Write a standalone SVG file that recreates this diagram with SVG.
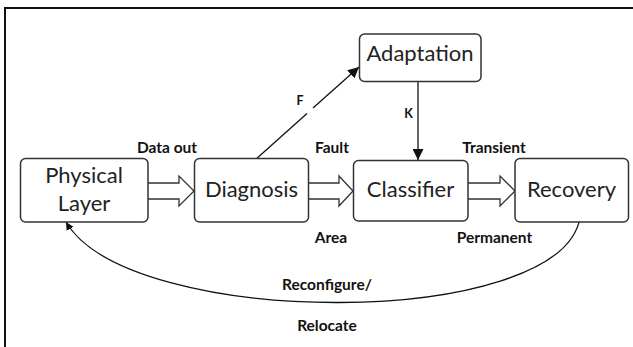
<svg xmlns="http://www.w3.org/2000/svg" width="633" height="347" viewBox="0 0 633 347">
<defs>
<style>
.box{fill:#fff;stroke:#333;stroke-width:1.5}
.nt{font-family:Lato,"Open Sans",sans-serif;font-size:22px;fill:#222;text-anchor:middle}
.lb{font-family:Lato,"Open Sans",sans-serif;font-size:15.5px;font-weight:bold;fill:#111;text-anchor:middle}
.sm{font-family:Lato,"Open Sans",sans-serif;font-size:12.5px;font-weight:bold;fill:#111;text-anchor:middle}
.ln{fill:none;stroke:#111;stroke-width:1.3}
.hol{fill:#fff;stroke:#333;stroke-width:1.3;stroke-linejoin:miter}
</style>
<marker id="ah" viewBox="0 0 10 10" refX="10" refY="5" markerWidth="8" markerHeight="8" markerUnits="userSpaceOnUse" orient="auto">
<path d="M0,0 L10,5 L0,10 z" fill="#111"/>
</marker>
<marker id="ahb" viewBox="0 0 10 10" refX="10" refY="5" markerWidth="11" markerHeight="11" markerUnits="userSpaceOnUse" orient="auto">
<path d="M0,0 L10,5 L0,10 z" fill="#111"/>
</marker>
</defs>
<rect width="633" height="347" fill="#fff"/>
<path d="M5,347 V8 H633" fill="none" stroke="#111" stroke-width="2"/>

<g id="connectors">
<path class="hol" d="M148,183 H179 V176 L194,191 L179,206 V199 H148"/>
<path class="hol" d="M309,183 H339 V176 L353,191 L339,206 V199 H309"/>
<path class="hol" d="M468,183 H500 V176 L515,191 L500,206 V199 H468"/>
<path class="ln" d="M255,160 L307,113.5"/>
<path class="ln" d="M313,108 L359,67" marker-end="url(#ahb)"/>
<path class="ln" d="M418,81 V160" marker-end="url(#ahb)"/>
<path class="ln" d="M580,218 C560,330 130,330 66,222" marker-end="url(#ah)"/>
</g>

<g id="physical-layer">
<rect class="box" x="20.5" y="158.5" width="127.5" height="63.5" rx="5"/>
<text class="nt" x="84" y="183">Physical</text>
<text class="nt" x="84" y="210.5">Layer</text>
</g>
<g id="diagnosis">
<rect class="box" x="194.5" y="158.5" width="114" height="63.5" rx="5"/>
<text class="nt" x="251.5" y="197">Diagnosis</text>
</g>
<g id="classifier">
<rect class="box" x="353.5" y="160.5" width="114.5" height="60.5" rx="5"/>
<text class="nt" x="410.5" y="197">Classifier</text>
</g>
<g id="recovery">
<rect class="box" x="515" y="158.5" width="113.5" height="63.5" rx="5"/>
<text class="nt" x="571.5" y="197">Recovery</text>
</g>
<g id="adaptation">
<rect class="box" x="359.5" y="34" width="121.5" height="47.5" rx="5"/>
<text class="nt" x="420" y="61">Adaptation</text>
</g>

<g id="labels">
<text class="lb" x="167" y="153">Data out</text>
<text class="lb" x="332" y="153">Fault</text>
<text class="lb" x="494" y="153">Transient</text>
<text class="lb" x="331" y="243">Area</text>
<text class="lb" x="494.5" y="243">Permanent</text>
<text class="lb" x="327" y="290">Reconfigure/</text>
<text class="lb" x="327" y="331">Relocate</text>
<text class="sm" x="300" y="105">F</text>
<text class="sm" x="408.5" y="117.5">K</text>
</g>
</svg>
